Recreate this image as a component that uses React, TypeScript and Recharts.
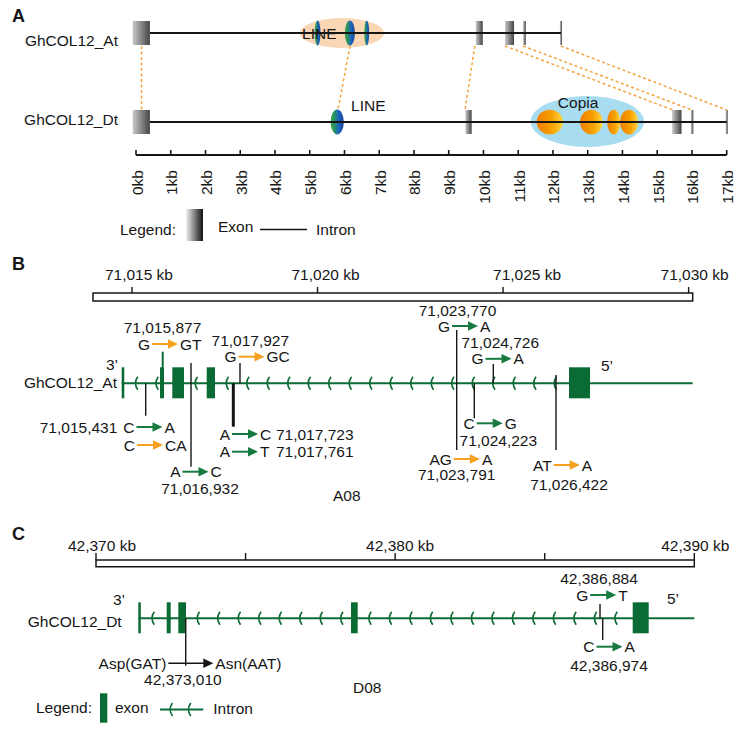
import React from "react";
import {
  ComposedChart,
  XAxis,
  YAxis,
  ReferenceArea,
  ReferenceLine,
  Scatter,
} from "recharts";

const FONT = "'Liberation Sans', Arial, Helvetica, sans-serif";
const FS = 15.5;
const INK = "#161616";
const GREEN = "#0b6b34";
const ARROW_GREEN = "#177a40";
const ORANGE = "#f5a01e";
const DASH = "#f3a440";

type Span = [number, number];

// ---------- panel A : kb from the gene start ----------
const aTicks = [0, 1, 2, 3, 4, 5, 6, 7, 8, 9, 10, 11, 12, 13, 14, 15, 16, 17];
const atExons: Span[] = [[-0.095, 0.4], [9.78, 9.98], [10.62, 10.88], [11.14, 11.22], [12.2, 12.26]];
const dtExons: Span[] = [[-0.095, 0.4], [9.48, 9.66], [15.43, 15.7], [15.97, 16.04], [16.97, 17.03]];
const atGene: Span = [0.4, 12.23];
const dtGene: Span = [0.4, 17.0];
const atLineRegion: Span = [4.72, 7.14];
const atLineElems: Span[] = [[5.14, 5.31], [6.01, 6.3], [6.57, 6.71]];
const dtLineElems: Span[] = [[5.6, 5.98]];
const copiaRegion: Span = [11.36, 14.62];
const copiaElems: Span[] = [[11.53, 12.29], [12.78, 13.43], [13.56, 13.94], [13.93, 14.45]];
// At kb -> Dt kb
const homologyLinks: Span[] = [[0.16, 0.16], [6.16, 5.81], [9.75, 9.47], [10.62, 15.45], [11.14, 16.0], [12.23, 17.0]];
const teLabels = [
  { text: "LINE", at: 4.78, anchor: "start" },
  { text: "LINE", at: 6.19, anchor: "start" },
  { text: "Copia", at: 12.14, anchor: "start" },
];

// ---------- panel B : A08, kb ----------
const bTicks = [71015, 71020, 71025, 71030];
const bTickLabels = ["71,015 kb", "71,020 kb", "71,025 kb", "71,030 kb"];
const bDomain: Span = [71013.95, 71030.11];
const bGene: Span = [71014.723, 71030.11];
const bExons: Span[] = [
  [71014.723, 71014.793],
  [71015.755, 71015.863],
  [71016.087, 71016.402],
  [71017.014, 71017.238],
  [71026.777, 71027.343],
];
const bSnpPos = [71015.37, 71015.828, 71016.591, 71017.731, 71017.911, 71023.75, 71024.225, 71024.737, 71026.426];
const bMutations = [
  { ref: "G", alt: "GT", kind: "indel", at: 71015.89 },
  { ref: "G", alt: "GC", kind: "indel", at: 71018.221 },
  { ref: "G", alt: "A", kind: "snp", at: 71023.974 },
  { ref: "G", alt: "A", kind: "snp", at: 71024.877 },
  { ref: "C", alt: "A", kind: "snp", at: 71015.472 },
  { ref: "C", alt: "CA", kind: "indel", at: 71015.486 },
  { ref: "A", alt: "C", kind: "snp", at: 71016.712 },
  { ref: "A", alt: "C", kind: "snp", at: 71018.046 },
  { ref: "A", alt: "T", kind: "snp", at: 71018.046 },
  { ref: "C", alt: "G", kind: "snp", at: 71024.64 },
  { ref: "AG", alt: "A", kind: "indel", at: 71024.025 },
  { ref: "AT", alt: "A", kind: "indel", at: 71026.715 },
];
const bPosLabels = [
  { text: "71,015,877", at: 71015.823, anchor: "middle" },
  { text: "71,017,927", at: 71018.189, anchor: "middle" },
  { text: "71,023,770", at: 71023.772, anchor: "middle" },
  { text: "71,024,726", at: 71024.925, anchor: "middle" },
  { text: "71,015,431", at: 71014.605, anchor: "end" },
  { text: "71,016,932", at: 71016.833, anchor: "middle" },
  { text: "71,017,723", at: 71018.88, anchor: "start" },
  { text: "71,017,761", at: 71018.88, anchor: "start" },
  { text: "71,024,223", at: 71024.872, anchor: "middle" },
  { text: "71,023,791", at: 71023.75, anchor: "middle" },
  { text: "71,026,422", at: 71026.777, anchor: "middle" },
];

// ---------- panel C : D08, kb ----------
const cTicks = [42370, 42375, 42380, 42385, 42390];
const cTickLabels = ["42,370 kb", "", "42,380 kb", "", "42,390 kb"];
const cDomain: Span = [42370, 42390];
const cGene: Span = [42371.414, 42390];
const cExons: Span[] = [
  [42371.414, 42371.498],
  [42372.363, 42372.497],
  [42372.751, 42373.009],
  [42378.524, 42378.748],
  [42387.941, 42388.476],
];
const cSnpPos = [42372.999, 42386.848, 42386.938];
const cMutations = [
  { ref: "Asp(GAT)", alt: "Asn(AAT)", kind: "aa", at: 42373.169 },
  { ref: "G", alt: "T", kind: "snp", at: 42386.955 },
  { ref: "C", alt: "A", kind: "snp", at: 42387.165 },
];
const cPosLabels = [
  { text: "42,373,010", at: 42372.905, anchor: "middle" },
  { text: "42,386,884", at: 42386.814, anchor: "middle" },
  { text: "42,386,974", at: 42387.149, anchor: "middle" },
];

// ---------- layout (px inside each panel's plot band) ----------
const A_AT = 33;
const A_DT = 122;
const teLane = [33.5, 105, 102];
const B_GENE = 90.3;
const C_GENE = 58.3;
const bSnpSpan: Span[] = [[90.3, 122.7], [58.7, 90.3], [70, 173.7], [90.3, 133.7], [70, 90.3], [37, 157], [90.3, 125.3], [71, 90.3], [82, 157]];
const bSnpStyle = ["thin", "green", "thin", "thick", "thin", "thin", "thin", "thin", "thin"];
const bMutLane = [51, 63.7, 33, 65.8, 134, 152, 178.7, 141, 158.7, 130.3, 166, 172];
const bPosLane = [34, 47, 17.5, 49.3, 134, 195.3, 141, 158.7, 147.7, 181.3, 191.3];
const bTickShift = [7, 8, 24, 6];
const cSnpSpan: Span[] = [[58.3, 105.7], [44, 58.3], [58.3, 80]];
const cMutLane = [103.3, 35, 86.7];
const cPosLane = [119.3, 18.3, 105.7];

const txt = { fontFamily: FONT, fontSize: FS, fill: INK };

function KbTick(props: any) {
  const { x, y, payload } = props;
  const lx = x + 1;
  const ly = y + 15;
  return (
    <g>
      <line x1={x} x2={x} y1={y} y2={y - 5} stroke={INK} strokeWidth={1.6} />
      <text
        x={lx}
        y={ly}
        transform={`rotate(-90 ${lx} ${ly})`}
        textAnchor="end"
        dominantBaseline="central"
        {...txt}
      >
        {`${payload.value}kb`}
      </text>
    </g>
  );
}

const makeScaleTick = (ticks: number[], labels: string[], shifts: number[], len: number, gap: number) =>
  function ScaleTick(props: any) {
    const { x, y, payload } = props;
    const i = ticks.indexOf(payload.value);
    return (
      <g>
        <line x1={x} x2={x} y1={y} y2={y - len} stroke={INK} strokeWidth={1.4} />
        <text x={x + shifts[i]} y={y - gap} textAnchor="middle" dominantBaseline="central" {...txt}>
          {labels[i]}
        </text>
      </g>
    );
  };

const ellipseShape = (fill: string) =>
  function EllipseShape(p: any) {
    const w = Math.abs(p.width);
    const h = Math.abs(p.height);
    return <ellipse cx={p.x + p.width / 2} cy={p.y + p.height / 2} rx={w / 2} ry={h / 2} fill={fill} />;
  };

function Chevrons(p: any) {
  const { x, y, width, height } = p;
  const cy = y + height / 2;
  const marks = [];
  for (let cx = x + 11; cx < x + width - 4; cx += 20.5) {
    marks.push(
      <path
        key={cx}
        d={`M${cx + 2.5},${cy - 6.5} Q${cx - 2.2},${cy} ${cx + 2.5},${cy + 6.5}`}
        stroke={GREEN}
        strokeWidth={1.6}
        fill="none"
      />
    );
  }
  return <g>{marks}</g>;
}

function MutationMark(p: any) {
  const { cx, cy, payload } = p;
  const color = payload.kind === "indel" ? ORANGE : payload.kind === "aa" ? INK : ARROW_GREEN;
  const half = payload.kind === "aa" ? 22.5 : 13;
  const head = 10;
  return (
    <g>
      <text x={cx - half - 2} y={cy} textAnchor="end" dominantBaseline="central" {...txt}>
        {payload.ref}
      </text>
      <line
        x1={cx - half}
        x2={cx + half - head + 1}
        y1={cy}
        y2={cy}
        stroke={color}
        strokeWidth={payload.kind === "aa" ? 1.5 : 2}
      />
      <polygon
        points={`${cx + half},${cy} ${cx + half - head},${cy - 4.8} ${cx + half - head},${cy + 4.8}`}
        fill={color}
      />
      <text x={cx + half + 2} y={cy} textAnchor="start" dominantBaseline="central" {...txt}>
        {payload.alt}
      </text>
    </g>
  );
}

function PosLabel(p: any) {
  const { cx, cy, payload } = p;
  return (
    <text x={cx} y={cy} textAnchor={payload.anchor} dominantBaseline="central" {...txt}>
      {payload.text}
    </text>
  );
}

function exonArea(span: Span, y1: number, y2: number, fill: string, key: string) {
  return (
    <ReferenceArea
      key={key}
      x1={span[0]}
      x2={span[1]}
      y1={y1}
      y2={y2}
      fill={fill}
      fillOpacity={1}
      stroke="none"
      ifOverflow="visible"
    />
  );
}

function introns(exons: Span[]): Span[] {
  const out: Span[] = [];
  for (let i = 0; i < exons.length - 1; i++) out.push([exons[i][1], exons[i + 1][0]]);
  return out;
}

function PanelA() {
  const rows = [
    { y: A_AT, exons: atExons, gene: atGene },
    { y: A_DT, exons: dtExons, gene: dtGene },
  ];
  const teData = teLabels.map((t, i) => ({ x: t.at, y: teLane[i], ...t }));
  return (
    <ComposedChart width={737} height={245} margin={{ top: 0, right: 10.3, bottom: 0, left: 136 }}>
      <XAxis
        type="number"
        dataKey="x"
        domain={[0, 17]}
        ticks={aTicks}
        interval={0}
        height={90}
        tickSize={0}
        tickMargin={0}
        tickLine={false}
        axisLine={{ stroke: INK, strokeWidth: 2 }}
        tick={<KbTick />}
      />
      <YAxis hide type="number" dataKey="y" domain={[0, 155]} reversed />
      <ReferenceArea x1={atLineRegion[0]} x2={atLineRegion[1]} y1={18} y2={48} ifOverflow="visible" shape={ellipseShape("#f9d6b4")} />
      <ReferenceArea x1={copiaRegion[0]} x2={copiaRegion[1]} y1={96} y2={147} ifOverflow="visible" shape={ellipseShape("#a8dcf0")} />
      {homologyLinks.map((l, i) => (
        <ReferenceLine
          key={`lk${i}`}
          segment={[{ x: l[0], y: A_AT + 13 }, { x: l[1], y: A_DT - 12 }]}
          stroke={DASH}
          strokeWidth={1.5}
          strokeDasharray="3 2.5"
          ifOverflow="visible"
        />
      ))}
      {rows.map((r, i) => (
        <ReferenceLine
          key={`gl${i}`}
          segment={[{ x: r.gene[0], y: r.y }, { x: r.gene[1], y: r.y }]}
          stroke={INK}
          strokeWidth={1.8}
          ifOverflow="visible"
        />
      ))}
      {rows.flatMap((r, i) => r.exons.map((e, j) => exonArea(e, r.y - 12, r.y + 12, "url(#exonGrad)", `ex${i}-${j}`)))}
      {atLineElems.map((e, i) => (
        <ReferenceArea key={`le${i}`} x1={e[0]} x2={e[1]} y1={A_AT - 12.5} y2={A_AT + 12.5} ifOverflow="visible" shape={ellipseShape("url(#lineGrad)")} />
      ))}
      {dtLineElems.map((e, i) => (
        <ReferenceArea key={`ld${i}`} x1={e[0]} x2={e[1]} y1={A_DT - 12.5} y2={A_DT + 12.5} ifOverflow="visible" shape={ellipseShape("url(#lineGrad)")} />
      ))}
      {copiaElems.map((e, i) => (
        <ReferenceArea key={`cp${i}`} x1={e[0]} x2={e[1]} y1={A_DT - 12.3} y2={A_DT + 12.3} ifOverflow="visible" shape={ellipseShape("url(#copiaGrad)")} />
      ))}
      <Scatter data={teData} shape={PosLabel} isAnimationActive={false} />
    </ComposedChart>
  );
}

function GenePanel(props: {
  height: number;
  axisH: number;
  plotH: number;
  domain: Span;
  left: number;
  right: number;
  ticks: number[];
  tickLabels: string[];
  tickShift: number[];
  tickLen: number;
  tickGap: number;
  barH: number;
  geneY: number;
  gene: Span;
  exons: Span[];
  snpPos: number[];
  snpSpan: Span[];
  snpStyle: string[];
  mutations: any[];
  mutLane: number[];
  posLabels: any[];
  posLane: number[];
}) {
  const p = props;
  const Tick = makeScaleTick(p.ticks, p.tickLabels, p.tickShift, p.tickLen, p.tickGap);
  const mutData = p.mutations.map((m, i) => ({ x: m.at, y: p.mutLane[i], ...m }));
  const posData = p.posLabels.map((m, i) => ({ x: m.at, y: p.posLane[i], ...m }));
  return (
    <ComposedChart width={737} height={p.height} margin={{ top: 0, right: p.right, bottom: 0, left: p.left }}>
      <XAxis
        type="number"
        dataKey="x"
        orientation="top"
        domain={p.domain}
        ticks={p.ticks}
        interval={0}
        height={p.axisH}
        tickSize={0}
        tickMargin={0}
        tickLine={false}
        axisLine={false}
        tick={<Tick />}
      />
      <YAxis hide type="number" dataKey="y" domain={[0, p.plotH]} reversed />
      <ReferenceArea
        x1={p.domain[0]}
        x2={p.domain[1]}
        y1={0}
        y2={p.barH}
        fill="#ffffff"
        fillOpacity={1}
        stroke={INK}
        strokeWidth={1.5}
        ifOverflow="visible"
      />
      <ReferenceLine
        segment={[{ x: p.gene[0], y: p.geneY }, { x: p.gene[1], y: p.geneY }]}
        stroke={GREEN}
        strokeWidth={2}
        ifOverflow="visible"
      />
      {introns(p.exons).map((s, i) => (
        <ReferenceArea key={`in${i}`} x1={s[0]} x2={s[1]} y1={p.geneY - 7} y2={p.geneY + 7} ifOverflow="visible" shape={<Chevrons />} />
      ))}
      {p.exons.map((e, i) => exonArea(e, p.geneY - 16, p.geneY + 15, GREEN, `ex${i}`))}
      {p.snpPos.map((x, i) => (
        <ReferenceLine
          key={`sn${i}`}
          segment={[{ x, y: p.snpSpan[i][0] }, { x, y: p.snpSpan[i][1] }]}
          stroke={p.snpStyle[i] === "green" ? GREEN : INK}
          strokeWidth={p.snpStyle[i] === "thick" ? 3 : p.snpStyle[i] === "green" ? 2 : 1.4}
          ifOverflow="visible"
        />
      ))}
      <Scatter data={mutData} shape={MutationMark} isAnimationActive={false} />
      <Scatter data={posData} shape={PosLabel} isAnimationActive={false} />
    </ComposedChart>
  );
}

function Overlay() {
  const t = (x: number, y: number, s: string, anchor = "start") => (
    <text x={x} y={y} textAnchor={anchor} dominantBaseline="central" {...txt}>
      {s}
    </text>
  );
  const bold = { fontFamily: FONT, fontSize: 18, fontWeight: 700, fill: INK } as any;
  const chevron = (cx: number, cy: number) => (
    <path d={`M${cx + 2.5},${cy - 6.5} Q${cx - 2.2},${cy} ${cx + 2.5},${cy + 6.5}`} stroke={GREEN} strokeWidth={1.6} fill="none" />
  );
  return (
    <svg width={737} height={730} style={{ position: "absolute", left: 0, top: 0, pointerEvents: "none" }}>
      <defs>
        <linearGradient id="exonGrad" x1="0" x2="1" y1="0" y2="0">
          <stop offset="0" stopColor="#c8c8c8" />
          <stop offset="1" stopColor="#454545" />
        </linearGradient>
        <linearGradient id="legendGrad" x1="0" x2="1" y1="0" y2="0">
          <stop offset="0" stopColor="#f2f2f2" />
          <stop offset="1" stopColor="#111111" />
        </linearGradient>
        <linearGradient id="lineGrad" x1="0" x2="1" y1="0" y2="0">
          <stop offset="0" stopColor="#35aa48" />
          <stop offset="0.3" stopColor="#2a9160" />
          <stop offset="0.6" stopColor="#1c66c0" />
          <stop offset="1" stopColor="#174592" />
        </linearGradient>
        <linearGradient id="copiaGrad" x1="0" x2="1" y1="0" y2="0">
          <stop offset="0" stopColor="#f07f00" />
          <stop offset="0.55" stopColor="#f79f00" />
          <stop offset="1" stopColor="#ffd640" />
        </linearGradient>
      </defs>

      {/* panel A */}
      <text x={12} y={15.5} dominantBaseline="central" {...bold}>A</text>
      {t(118, 40, "GhCOL12_At", "end")}
      {t(118, 119.5, "GhCOL12_Dt", "end")}
      {t(120, 229.5, "Legend:")}
      <rect x={186} y={209} width={17} height={32} fill="url(#legendGrad)" />
      {t(218, 226.7, "Exon")}
      <line x1={260} x2={307} y1={229.5} y2={229.5} stroke={INK} strokeWidth={1.6} />
      {t(316, 229.5, "Intron")}

      {/* panel B */}
      <text x={12} y={263.5} dominantBaseline="central" {...bold}>B</text>
      {t(106, 364, "3\u2019")}
      {t(117, 382, "GhCOL12_At", "end")}
      {t(601, 365, "5\u2019")}
      {t(333, 495, "A08")}

      {/* panel C */}
      <text x={12} y={533.5} dominantBaseline="central" {...bold}>C</text>
      {t(113, 599, "3\u2019")}
      {t(121.7, 621, "GhCOL12_Dt", "end")}
      {t(667, 598, "5\u2019")}
      {t(353, 687.5, "D08")}
      {t(36, 707, "Legend:")}
      <rect x={100} y={693.3} width={7.3} height={29.4} fill={GREEN} />
      {t(115, 707.5, "exon")}
      <line x1={160} x2={203.3} y1={709.5} y2={709.5} stroke={GREEN} strokeWidth={2} />
      {chevron(170, 709.5)}
      {chevron(188.3, 709.5)}
      {t(213.3, 708, "Intron")}
    </svg>
  );
}

export default function App() {
  return (
    <div style={{ position: "relative", width: 737, height: 730, background: "#fff", fontFamily: FONT }}>
      <style>{"body{margin:0}"}</style>
      <div style={{ position: "absolute", left: 0, top: 0 }}>
        <PanelA />
      </div>
      <div style={{ position: "absolute", left: 0, top: 250 }}>
        <GenePanel
          height={255}
          axisH={43}
          plotH={212}
          domain={bDomain}
          left={93}
          right={44.3}
          ticks={bTicks}
          tickLabels={bTickLabels}
          tickShift={bTickShift}
          tickLen={6}
          tickGap={19}
          barH={8}
          geneY={B_GENE}
          gene={bGene}
          exons={bExons}
          snpPos={bSnpPos}
          snpSpan={bSnpSpan}
          snpStyle={bSnpStyle}
          mutations={bMutations}
          mutLane={bMutLane}
          posLabels={bPosLabels}
          posLane={bPosLane}
        />
      </div>
      <div style={{ position: "absolute", left: 0, top: 500 }}>
        <GenePanel
          height={230}
          axisH={60}
          plotH={170}
          domain={cDomain}
          left={96}
          right={42.7}
          ticks={cTicks}
          tickLabels={cTickLabels}
          tickShift={[6, 0, 5, 0, 1]}
          tickLen={7}
          tickGap={15}
          barH={6.7}
          geneY={C_GENE}
          gene={cGene}
          exons={cExons}
          snpPos={cSnpPos}
          snpSpan={cSnpSpan}
          snpStyle={["thin", "thin", "thin"]}
          mutations={cMutations}
          mutLane={cMutLane}
          posLabels={cPosLabels}
          posLane={cPosLane}
        />
      </div>
      <Overlay />
    </div>
  );
}
